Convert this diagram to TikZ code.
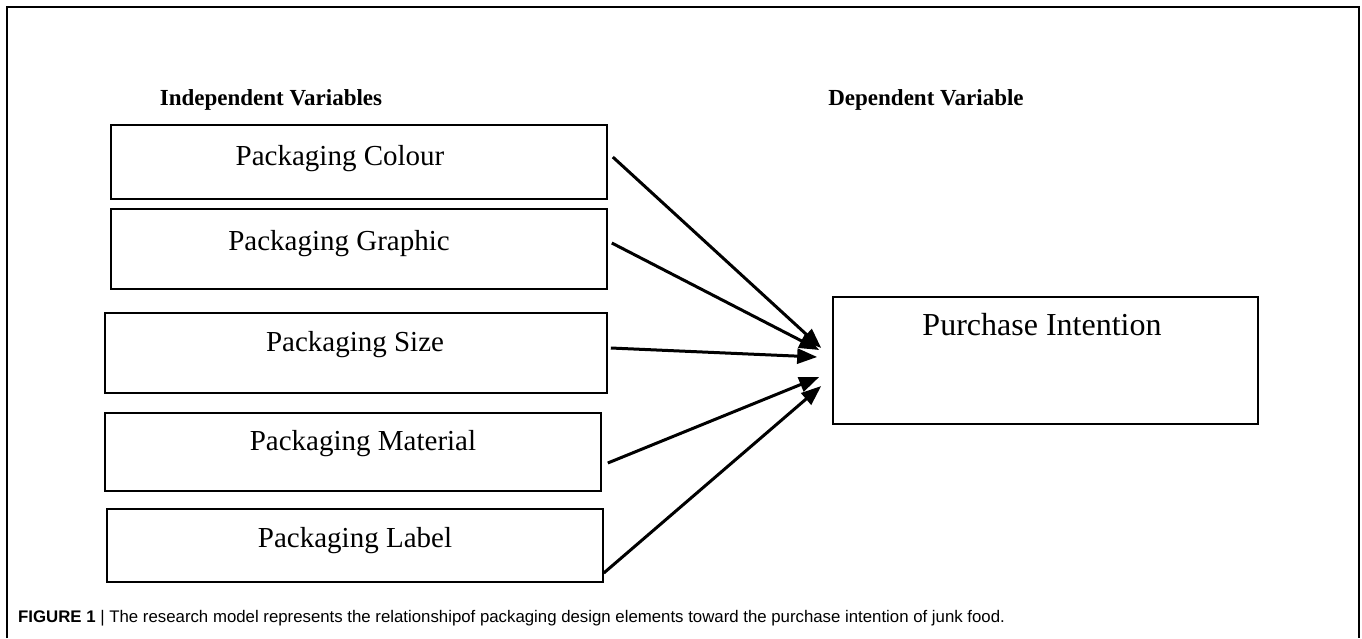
\documentclass[tikz,border=0pt]{standalone}
\usepackage{fontspec}
\setmainfont{Liberation Serif}
\newfontfamily\capfont{Liberation Sans}
\usetikzlibrary{arrows.meta,calc}
\begin{document}
\begin{tikzpicture}[x=1pt,y=-1pt,
  box/.style={draw=black,line width=1.6pt,rectangle,inner sep=0pt},
  boxtext/.style={font=\fontsize{29}{32}\selectfont,inner sep=0pt,anchor=base},
  head/.style={font=\bfseries\fontsize{23}{26}\selectfont,inner sep=0pt,anchor=base},
  conn/.style={line width=3pt,-{Triangle[length=20pt,width=15pt]}},
  frame/.style={line width=1.5pt}
]
\useasboundingbox (0,0) rectangle (1362,638);
\draw[frame] (7,638) -- (7,7) -- (1359,7) -- (1359,638);

\node[head] (h1) at (271,105) {Independent Variables};
\node[head] (h2) at (926,105) {Dependent Variable};

\node[box,minimum width=496pt,minimum height=74pt] (b1) at (359,162) {};
\node[box,minimum width=496pt,minimum height=80pt] (b2) at (359,249) {};
\node[box,minimum width=502pt,minimum height=80pt] (b3) at (356,353) {};
\node[box,minimum width=496pt,minimum height=78pt] (b4) at (353,452) {};
\node[box,minimum width=496pt,minimum height=73pt] (b5) at (355,545.5) {};
\node[box,minimum width=425pt,minimum height=127pt] (p) at (1045.5,360.5) {};

\node[boxtext] (t1) at (340,165) {Packaging Colour};
\node[boxtext] (t2) at (339,250) {Packaging Graphic};
\node[boxtext] (t3) at (355,351) {Packaging Size};
\node[boxtext] (t4) at (363,450) {Packaging Material};
\node[boxtext] (t5) at (355,547) {Packaging Label};
\node[boxtext,font=\fontsize{32}{35}\selectfont] (tp) at (1042,335) {Purchase Intention};

\coordinate (s1) at ($(b1.east)+(5,-5)$);
\coordinate (s2) at ($(b2.east)+(4,-6)$);
\coordinate (s3) at ($(b3.east)+(3,-5)$);
\coordinate (s4) at ($(b4.east)+(6,11)$);
\coordinate (s5) at ($(b5.east)+(0,27.5)$);
\coordinate (e1) at ($(p.west)+(-11,-12.5)$);
\coordinate (e2) at ($(p.west)+(-13,-10.5)$);
\coordinate (e3) at ($(p.west)+(-15,-3.5)$);
\coordinate (e4) at ($(p.west)+(-13,16.5)$);
\coordinate (e5) at ($(p.west)+(-11,25.5)$);
\draw[conn] (s1) -- (e1);
\draw[conn] (s2) -- (e2);
\draw[conn] (s3) -- (e3);
\draw[conn] (s4) -- (e4);
\draw[conn] (s5) -- (e5);

\node[anchor=base west,inner sep=0pt,font=\capfont\fontsize{16.8}{19}\selectfont] (cap) at (18,622)
  {\textbf{FIGURE 1} | The research model represents the relationshipof packaging design elements toward the purchase intention of junk food.};
\end{tikzpicture}
\end{document}
